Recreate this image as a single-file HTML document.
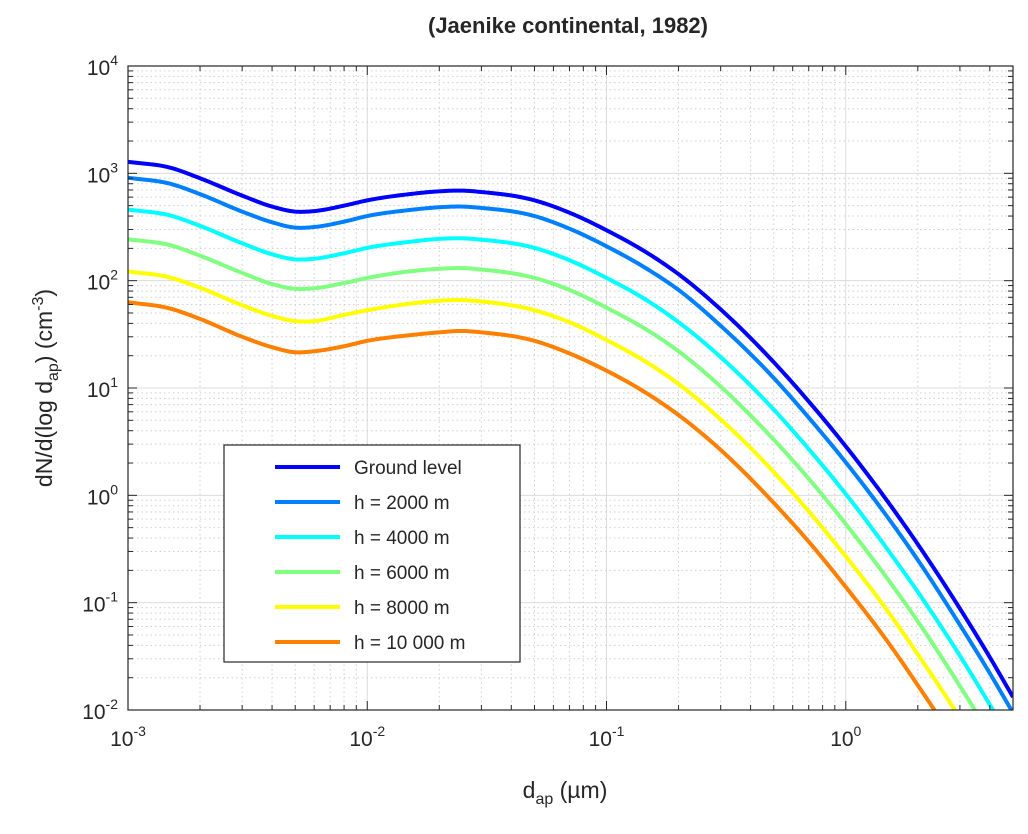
<!DOCTYPE html>
<html><head><meta charset="utf-8"><style>
body{margin:0;background:#fff;}
svg text{font-family:"Liberation Sans",Arial,sans-serif;fill:#262626;}
</style></head><body>
<svg id="chart" width="1028" height="829" viewBox="0 0 1028 829" xmlns="http://www.w3.org/2000/svg">
<rect width="1028" height="829" fill="#fff"/>
<g id="grid"></g>
<g id="series"></g>
<rect x="128" y="66" width="885" height="644" fill="none" stroke="#262626" stroke-width="1.2"/>
<g id="ticks"></g>
<text x="568" y="33" font-size="22" font-weight="bold" text-anchor="middle">(Jaenike continental, 1982)</text>
<text x="565" y="798" font-size="23" text-anchor="middle">d<tspan font-size="16" dy="6">ap</tspan><tspan dy="-6"> (µm)</tspan></text>
<text transform="translate(52,388) rotate(-90)" font-size="23" text-anchor="middle">dN/d(log d<tspan font-size="16" dy="6">ap</tspan><tspan dy="-6">) (cm</tspan><tspan font-size="16" dy="-9">-3</tspan><tspan dy="9">)</tspan></text>
<g id="legend"></g>
</svg>
<script>
const xs=[0.001,0.0015,0.002,0.003,0.004,0.005,0.006,0.008,0.01,0.015,0.02,0.025,0.03,0.05,0.07,0.1,0.15,0.2,0.3,0.5,0.7,1,1.5,2,3,4,5];
const ground=[1280,1130,900,620,490,440,445,500,560,640,680,690,670,560,430,295,178,115,54,17.4,7.5,2.86,0.87,0.35,0.088,0.031,0.0132];
const h2000=[910,800,640,440,350,312,316,355,400,455,483,490,476,400,305,209,126,82,38,12.4,5.3,2.03,0.62,0.25,0.062,0.022,0.0094];
const h4000=[460,405,324,223,176,158,160,180,202,230,245,248,241,202,155,106,64,41,19.4,6.3,2.7,1.03,0.31,0.126,0.032,0.0112,0.0048];
const h6000=[243,214,171,118,93,84,85,95,106,122,129,131,127,106,82,56,34,22,10.3,3.3,1.43,0.54,0.165,0.067,0.0167,0.0059,0.0025];
const h8000=[122,107,86,59,47,42,42,48,53,61,65,66,64,53,41,28,16.9,10.9,5.1,1.65,0.71,0.27,0.083,0.033,0.0084,0.0029,0.00125];
const h10000=[63,55,44,30,24,21.5,22,24.5,27.5,31,33,34,33,27.5,21,14.5,8.7,5.6,2.65,0.85,0.37,0.14,0.043,0.017,0.0043,0.0015,0.00065];
const seriesNames=["Ground level","h = 2000 m","h = 4000 m","h = 6000 m","h = 8000 m","h = 10 000 m"];
const seriesColors=["#0000ff","#0080ff","#00ffff","#80ff80","#ffff00","#ff8000"];
const xTickExp=[-3,-2,-1,0];
const yTickExp=[-2,-1,0,1,2,3,4];

const NS="http://www.w3.org/2000/svg";
const X0=128,X1=1013,Y0=710,Y1=66;
const XMIN=-3,XMAX=Math.log10(5),YMIN=-2,YMAX=4;
function sx(v){return X0+(Math.log10(v)-XMIN)/(XMAX-XMIN)*(X1-X0);}
function sy(v){return Y0-(Math.log10(v)-YMIN)/(YMAX-YMIN)*(Y0-Y1);}
function mk(tag,attrs,parent){const e=document.createElementNS(NS,tag);for(const k in attrs)e.setAttribute(k,attrs[k]);parent.appendChild(e);return e;}

const grid=document.getElementById('grid'), ticks=document.getElementById('ticks');
for(let e=-3;e<=0;e++){for(let m=1;m<=9;m++){const v=m*Math.pow(10,e);if(v>5.0001)break;const x=sx(v);
 const ln=mk('line',{x1:x,x2:x,y1:Y1,y2:Y0,stroke:m===1?'#dcdcdc':'#d0d0d0','stroke-width':1,'stroke-dasharray':m===1?'':'1.5,3'},grid);
 
 
 const t1=mk('line',{x1:x,x2:x,y1:Y0,y2:Y0-(m===1?9:5),stroke:'#262626'},ticks);
 
 
 const t2=mk('line',{x1:x,x2:x,y1:Y1,y2:Y1+(m===1?9:5),stroke:'#262626'},ticks);
 
 }}
for(let e=-2;e<=4;e++){for(let m=1;m<=9;m++){const v=m*Math.pow(10,e);if(e===4&&m>1)break;const y=sy(v);
 const ln=mk('line',{x1:X0,x2:X1,y1:y,y2:y,stroke:m===1?'#dcdcdc':'#d0d0d0','stroke-width':1,'stroke-dasharray':m===1?'':'1.5,3'},grid);
 
 
 const t1=mk('line',{x1:X0,x2:X0+(m===1?9:5),y1:y,y2:y,stroke:'#262626'},ticks);
 
 
 const t2=mk('line',{x1:X1,x2:X1-(m===1?9:5),y1:y,y2:y,stroke:'#262626'},ticks);
 
 }}
xTickExp.forEach(e=>{const t=mk('text',{x:sx(Math.pow(10,e)),y:Y0+36,'font-size':21,'text-anchor':'middle'},ticks);
 
 
 t.innerHTML='10<tspan font-size="14" dy="-10">'+e+'</tspan>';});
yTickExp.forEach(e=>{const t=mk('text',{x:X0-10,y:sy(Math.pow(10,e))+9,'font-size':21,'text-anchor':'end'},ticks);
 
 
 t.innerHTML='10<tspan font-size="14" dy="-10">'+e+'</tspan>';});

const clip=mk('clipPath',{id:'pc'},document.getElementById('chart'));
mk('rect',{x:X0,y:Y1,width:X1-X0,height:Y0-Y1},clip);
const sg=document.getElementById('series');sg.setAttribute('clip-path','url(#pc)');
const allSeries=[ground,h2000,h4000,h6000,h8000,h10000];
// cubic Hermite interpolation in log-log space with non-uniform tangents
function pathFor(vals){
 const lx=xs.map(v=>Math.log10(v)), ly=vals.map(v=>Math.log10(v)), n=lx.length;
 const m=[];
 for(let i=0;i<n;i++){
  if(i===0)m.push((ly[1]-ly[0])/(lx[1]-lx[0]));
  else if(i===n-1)m.push((ly[n-1]-ly[n-2])/(lx[n-1]-lx[n-2]));
  else{const d0=(ly[i]-ly[i-1])/(lx[i]-lx[i-1]),d1=(ly[i+1]-ly[i])/(lx[i+1]-lx[i]);
   const h0=lx[i]-lx[i-1],h1=lx[i+1]-lx[i];m.push((d0*h1+d1*h0)/(h0+h1));}
 }
 let d='';
 for(let i=0;i<n-1;i++){const h=lx[i+1]-lx[i];
  for(let k=0;k<=12;k++){if(i>0&&k===0)continue;const t=k/12,t2=t*t,t3=t2*t;
   const y=(2*t3-3*t2+1)*ly[i]+(t3-2*t2+t)*h*m[i]+(-2*t3+3*t2)*ly[i+1]+(t3-t2)*h*m[i+1];
   const x=lx[i]+t*h;
   const px=sx(Math.pow(10,x)),py=sy(Math.pow(10,y));
   d+=(d?' L':'M')+px.toFixed(2)+','+py.toFixed(2);}}
 return d;}
allSeries.forEach((vals,i)=>{const p=mk('path',{d:pathFor(vals),fill:'none',stroke:seriesColors[i],'stroke-width':4,'stroke-linejoin':'round'},sg);
 
 });

const lg=document.getElementById('legend');
const lb=mk('rect',{x:224,y:445,width:296,height:217,fill:'#fff',stroke:'#262626','stroke-width':1.2},lg);


seriesNames.forEach((n,i)=>{const y=467+i*35;
 const l=mk('line',{x1:275,x2:340,y1:y,y2:y,stroke:seriesColors[i],'stroke-width':4},lg);
 
 
 const t=mk('text',{x:354,y:y+7,'font-size':19},lg);
 
 
 t.textContent=n;});
</script>
</body></html>
